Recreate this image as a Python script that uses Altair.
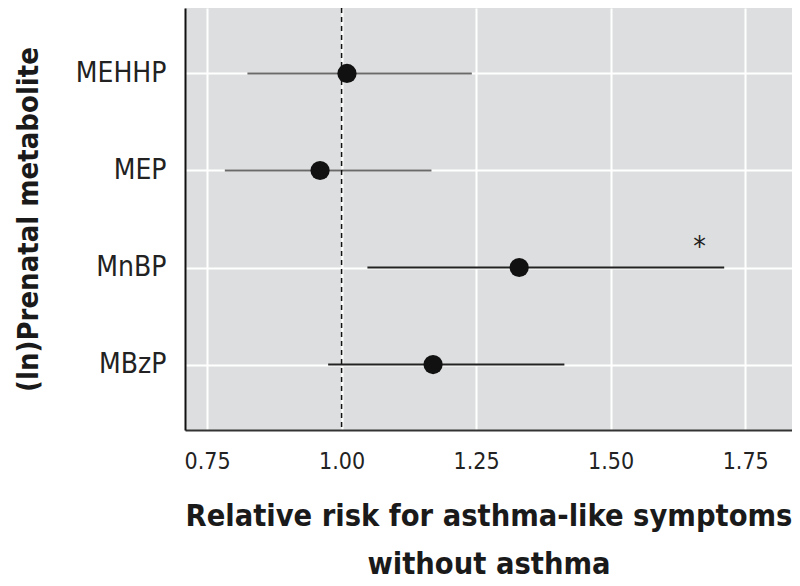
import altair as alt
import pandas as pd

metabolites = ["MEHHP", "MEP", "MnBP", "MBzP"]
rr = [1.01, 0.96, 1.33, 1.17]
ci_lower = [0.825, 0.783, 1.048, 0.975]
ci_upper = [1.242, 1.167, 1.711, 1.414]

ref_value = [1.0]
star_label = ["*"]
star_metabolite = ["MnBP"]
star_x = [1.665]

x_ticks = [0.75, 1.00, 1.25, 1.50, 1.75]

df = pd.DataFrame({"metabolite": metabolites, "rr": rr, "lo": ci_lower, "hi": ci_upper})
df_ref = pd.DataFrame({"ref": ref_value})
df_star = pd.DataFrame({"metabolite": star_metabolite, "x": star_x, "label": star_label})

FONT = "DejaVu Sans Condensed"

xscale = alt.Scale(domain=[0.709, 1.837], nice=False, zero=False)
yscale = alt.Scale(type="point", domain=metabolites, padding=0.675)

x_axis = alt.Axis(
    values=x_ticks, format=".2f", ticks=False, grid=True, gridColor="white", gridWidth=2,
    domainColor="#333333", domainWidth=2, labelFont=FONT, labelFontSize=23, labelColor="#222222",
    labelPadding=20, title=["Relative risk for asthma-like symptoms", "without asthma"],
    titleFont=FONT, titleFontSize=30.5, titleFontWeight="bold", titleColor="#1a1a1a",
    titlePadding=28, titleLineHeight=48,
)
y_axis = alt.Axis(
    ticks=False, grid=True, gridColor="white", gridWidth=2, domainColor="#111111", domainWidth=2,
    labelFont=FONT, labelFontSize=28, labelColor="#222222", labelPadding=19,
    title="(ln)Prenatal metabolite", titleFont=FONT, titleFontSize=29, titleFontWeight="bold",
    titleColor="#1a1a1a", titlePadding=32,
)

base = alt.Chart(df)

ci = base.mark_rule(strokeWidth=2).encode(
    x=alt.X("lo:Q", scale=xscale, axis=x_axis),
    x2="hi:Q",
    y=alt.Y("metabolite:N", scale=yscale, axis=y_axis, sort=metabolites),
    color=alt.condition(
        alt.FieldOneOfPredicate(field="metabolite", oneOf=["MEHHP", "MEP"]),
        alt.value("#6a6a6a"), alt.value("#222222")),
)

pts = base.mark_circle(size=370, opacity=1, color="#111111").encode(
    x=alt.X("rr:Q", scale=xscale),
    y=alt.Y("metabolite:N", scale=yscale, sort=metabolites),
)

ref = alt.Chart(df_ref).mark_rule(color="#111111", strokeWidth=1.5, strokeDash=[5, 4]).encode(
    x=alt.X("ref:Q", scale=xscale),
)

star = alt.Chart(df_star).mark_text(font=FONT, fontSize=28, color="#222222", dy=-20).encode(
    x=alt.X("x:Q", scale=xscale),
    y=alt.Y("metabolite:N", scale=yscale, sort=metabolites),
    text="label:N",
)

chart = alt.layer(ci, ref, pts, star).properties(
    width=607, height=422,
    autosize=alt.AutoSizeParams(type="none"),
    padding={"left": 177, "top": 0, "right": 0, "bottom": 150},
).configure_view(fill="#dcdedf", stroke=None)

chart.save("out.html", embed_options={"renderer": "svg", "actions": False})
